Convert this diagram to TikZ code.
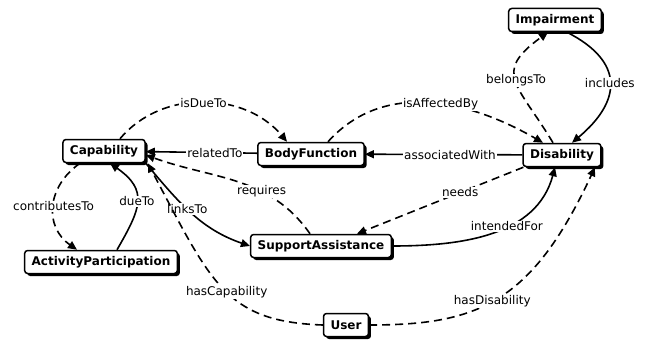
\documentclass[tikz,border=0pt]{standalone}
\usepackage{fontspec}
\setmainfont{DejaVu Sans}
\usepackage{tikz}
\usetikzlibrary{arrows.meta, positioning, shadows}

\begin{document}
\begin{tikzpicture}[
x=1pt, y=1pt,
box/.style={rectangle, rounded corners=3pt, draw=black, line width=1.5pt, fill=white, minimum height=23pt, inner xsep=7pt, font=\fontsize{12}{14}\selectfont\bfseries, drop shadow={shadow xshift=2.5pt, shadow yshift=-2.5pt, fill=black, opacity=1}},
rel/.style={line width=1.6pt, -{Triangle[length=9pt,width=8pt]}},
dashrel/.style={rel, dash pattern=on 8pt off 5pt},
lbl/.style={fill=white, inner sep=1pt, font=\fontsize{12}{14}\selectfont}
]
\useasboundingbox (0,0) rectangle (651,341);

\node[box] (imp) at (555,321) {Impairment};
\node[box] (dis) at (562,186) {Disability};
\node[box] (bf) at (311,187) {BodyFunction};
\node[box] (cap) at (104,190) {Capability};
\node[box] (sa) at (321,95) {SupportAssistance};
\node[box] (ap) at (101,79) {ActivityParticipation};
\node[box] (user) at (346,16) {User};

\draw[rel] ([xshift=12pt]imp.south) to[out=-27, in=40, looseness=1.5] node[lbl] {includes} ([xshift=10pt]dis.north);
\draw[dashrel] ([xshift=-9pt]dis.north) to[out=121, in=-144, looseness=1.6] node[lbl] {belongsTo} ([xshift=-7pt]imp.south);
\draw[dashrel] ([xshift=17pt]bf.north) to[out=48, in=150] node[lbl, pos=0.55] {isAffectedBy} ([xshift=-19pt]dis.north);
\draw[rel] (dis) -- node[lbl, pos=0.46] {associatedWith} (bf);
\draw[rel] (bf) -- node[lbl, pos=0.38] {relatedTo} (cap);
\draw[dashrel] ([xshift=16pt]cap.north) to[out=50, in=130] node[lbl] {isDueTo} ([xshift=-24pt]bf.north);
\draw[rel] (cap.south east) to[out=-50, in=161] node[lbl, pos=0.45] {linksTo} (sa.west);
\draw[dashrel] ([xshift=-11pt]sa.north) to[out=125, in=-20] node[lbl, pos=0.35] {requires} ([yshift=-4pt]cap.east);
\draw[dashrel] ([xshift=1pt]dis.south west) -- node[lbl, pos=0.38] {needs} ([xshift=36pt]sa.north);
\draw[rel] (sa.east) to[out=0, in=-105] node[lbl, pos=0.58] {intendedFor} ([xshift=-7pt]dis.south);
\draw[dashrel] (user.east) to[out=0, in=-115, in looseness=1.4] node[lbl, pos=0.47] {hasDisability} ([xshift=33pt]dis.south);
\draw[dashrel] (user.west) to[out=178, in=-62, out looseness=1.05, in looseness=1.45] node[lbl, pos=0.47] {hasCapability} ([xshift=2pt]cap.south east);
\draw[dashrel] ([xshift=-24pt]cap.south) to[out=-145, in=145, looseness=1.2] node[lbl] {contributesTo} ([xshift=-24pt]ap.north);
\draw[rel] ([xshift=16pt]ap.north) to[out=60, in=-35, looseness=1.4] node[lbl] {dueTo} ([xshift=6pt]cap.south);

\end{tikzpicture}
\end{document}
